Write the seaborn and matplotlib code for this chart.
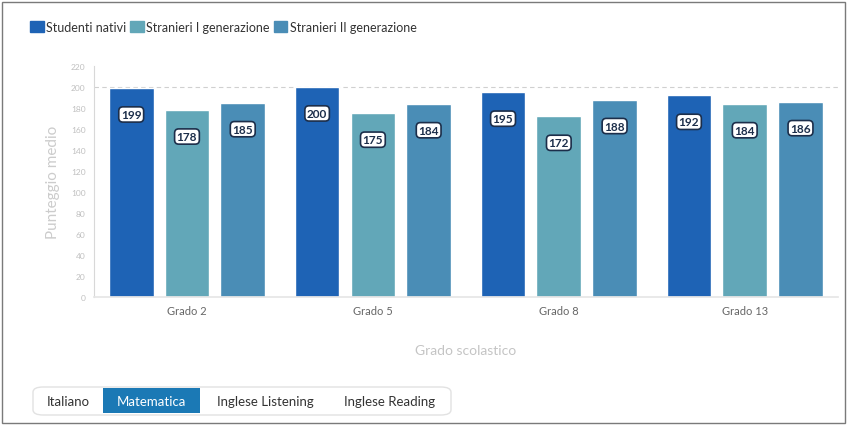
import pandas as pd
import numpy as np
import matplotlib.pyplot as plt
import seaborn as sns
from matplotlib.patches import FancyBboxPatch, Rectangle

sns.set_theme(style="white")
plt.rcParams['font.family'] = ['Lato', 'DejaVu Sans']

# data
grades = ['Grado 2', 'Grado 5', 'Grado 8', 'Grado 13']
groups = ['Studenti nativi', 'Stranieri I generazione', 'Stranieri II generazione']
nativi = [199, 200, 195, 192]
stranieri_1 = [178, 175, 172, 184]
stranieri_2 = [185, 184, 188, 186]
colors = ['#1e63b5', '#62a7b8', '#4a8db6']
y_ticks = list(range(0, 221, 20))
buttons = ['Italiano', 'Matematica', 'Inglese Listening', 'Inglese Reading']

rows = []
for g, vals in zip(groups, [nativi, stranieri_1, stranieri_2]):
    for gr, v in zip(grades, vals):
        rows.append({'grade': gr, 'group': g, 'score': v})
df = pd.DataFrame(rows)

fig = plt.figure(figsize=(8.47, 4.27), dpi=100)
ax = fig.add_axes([0.111, 0.302, 0.878, 0.541])

sns.barplot(data=df, x='grade', y='score', hue='group', order=grades,
            hue_order=groups, palette=colors, width=0.9, gap=0.2,
            saturation=1, ax=ax, legend=False)

ax.set_xlim(-0.5, 3.5)
ax.set_ylim(0, 220)
ax.set_yticks(y_ticks)
ax.set_yticklabels([str(t) for t in y_ticks], fontsize=6, color='#c0c0c0')
ax.tick_params(axis='y', length=4, color='#d8d8d8', width=0.8, pad=2)
ax.tick_params(axis='x', length=0, labelsize=8, labelcolor='#666666', pad=6)
ax.axhline(200, color='#d0d0d0', lw=0.8, ls=(0, (4, 3)), zorder=0)

for s in ['top', 'right']:
    ax.spines[s].set_visible(False)
ax.spines['left'].set_color('#d8d8d8')
ax.spines['bottom'].set_color('#e6e6e6')
ax.spines['left'].set_linewidth(0.8)

ax.set_ylabel('Punteggio medio', fontsize=11, color='#cccccc', labelpad=8)
ax.set_xlabel('Grado scolastico', fontsize=10, color='#c4c4c4', labelpad=20)

# value labels
for cont in ax.containers:
    for bar in cont:
        h = bar.get_height()
        ax.annotate(f'{int(h)}', (bar.get_x() + bar.get_width() / 2, h),
                    xytext=(0, -19), textcoords='offset points',
                    ha='center', va='center', fontsize=8.5, fontweight='bold',
                    color='#1c2e4a',
                    bbox=dict(boxstyle='round,pad=0.18,rounding_size=0.35',
                              fc='white', ec='#1c2e4a', lw=1.2))

# legend
handles = [Rectangle((0, 0), 1, 1, color=c) for c in colors]
fig.legend(handles, groups, loc='upper left', bbox_to_anchor=(0.022, 0.975),
           ncol=3, frameon=False, fontsize=9, handlelength=1.1,
           handleheight=1.0, handletextpad=0.2, columnspacing=0.3,
           labelcolor='#333333')

# buttons
fig.patches.append(FancyBboxPatch((33 / 847, 1 - 416 / 427), 418 / 847, 28 / 427,
                                  boxstyle='round,pad=0,rounding_size=0.012',
                                  transform=fig.transFigure, fc='white',
                                  ec='#e2e2e2', lw=1))
fig.patches.append(Rectangle((103 / 847, 1 - 414 / 427), 97 / 847, 25 / 427,
                             transform=fig.transFigure, fc='#1b79b5', ec='none'))
btn_x = [68, 151, 265, 390]
for b, xb in zip(buttons, btn_x):
    fig.text(xb / 847, 1 - 402 / 427, b, ha='center', va='center', fontsize=9.5,
             color='white' if b == 'Matematica' else '#333333')

# outer frame
fig.patches.append(Rectangle((2 / 847, 3 / 427), 843 / 847, 421 / 427,
                             transform=fig.transFigure, fill=False,
                             ec='#7a7a7a', lw=1))

fig.savefig('out.png', dpi=100)
